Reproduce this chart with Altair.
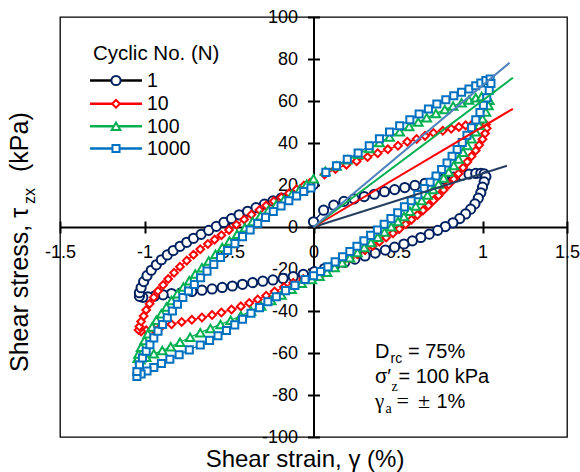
import altair as alt
import pandas as pd

# ---------------- data ----------------
series_names = ["1", "10", "100", "1000"]

strain_n1 = [0.0, 0.06, 0.12, 0.18, 0.24, 0.30, 0.36, 0.42, 0.48, 0.54, 0.60, 0.66, 0.72, 0.77, 0.83, 0.88, 0.92, 0.96, 0.99, 1.01,
             1.02, 1.01, 1.0, 0.99, 0.975, 0.955, 0.93, 0.9, 0.865, 0.825, 0.78, 0.735, 0.685, 0.635, 0.585, 0.535, 0.48, 0.425, 0.365, 0.305, 0.245, 0.185, 0.125, 0.065, 0.005,
             -0.06, -0.12, -0.18, -0.24, -0.30, -0.36, -0.42, -0.48, -0.54, -0.60, -0.66, -0.72, -0.78, -0.84, -0.89, -0.94, -0.98, -1.01, -1.03,
             -1.03, -1.02, -1.005, -0.985, -0.96, -0.93, -0.9, -0.865, -0.83, -0.79, -0.75, -0.71, -0.665, -0.62, -0.575, -0.53, -0.485, -0.44, -0.39, -0.34, -0.29, -0.24, -0.19, -0.14, -0.09, -0.045, 0.0]
stress_n1 = [2.5, 8.0, 10.4, 12.2, 13.4, 14.5, 15.6, 16.8, 17.8, 18.8, 19.8, 20.8, 21.8, 22.8, 23.8, 24.6, 25.2, 25.5, 25.6, 25.3,
             24.0, 21.5, 19.0, 16.3, 13.7, 11.0, 8.5, 6.2, 4.0, 2.0, 0.2, -1.6, -3.4, -5.0, -6.6, -8.1, -9.6, -11.0, -12.4, -13.8, -15.3, -16.8, -18.3, -19.8, -21.3,
             -22.5, -23.6, -24.5, -25.2, -25.8, -26.5, -27.3, -28.1, -28.8, -29.5, -30.1, -30.7, -31.2, -31.7, -32.3, -32.9, -33.3, -33.5, -33.0,
             -31.3, -28.9, -26.0, -23.2, -20.6, -18.0, -15.6, -13.3, -11.2, -9.2, -7.3, -5.4, -3.5, -1.6, 0.3, 2.2, 4.0, 5.8, 7.5, 9.2, 10.9, 12.4, 13.8, 15.3, 16.9, 18.6, 20.2]

strain_n10 = [0.065, 0.13, 0.195, 0.255, 0.32, 0.38, 0.44, 0.5, 0.555, 0.61, 0.66, 0.71, 0.765, 0.815, 0.86, 0.9, 0.94, 0.975, 1.0, 1.02,
              1.025, 1.015, 1.0, 0.98, 0.96, 0.935, 0.91, 0.885, 0.858, 0.83, 0.8, 0.77, 0.74, 0.71, 0.68, 0.648, 0.615, 0.58, 0.545, 0.508, 0.47, 0.43, 0.39, 0.35, 0.305, 0.26, 0.215, 0.165, 0.115, 0.06, 0.0,
              -0.06, -0.12, -0.175, -0.23, -0.28, -0.33, -0.38, -0.43, -0.485, -0.545, -0.6, -0.66, -0.72, -0.78, -0.84, -0.9, -0.95, -0.99, -1.02, -1.035,
              -1.03, -1.02, -1.005, -0.99, -0.97, -0.945, -0.92, -0.89, -0.86, -0.825, -0.79, -0.75, -0.71, -0.67, -0.625, -0.585, -0.545, -0.5, -0.456, -0.41, -0.367, -0.32, -0.28, -0.235, -0.19, -0.145, -0.1, -0.057, -0.02]
stress_n10 = [25.0, 27.6, 29.7, 31.3, 33.3, 35.1, 37.0, 38.7, 40.6, 41.9, 43.4, 44.8, 45.8, 46.8, 47.6, 48.4, 49.0, 49.3, 49.3, 48.8,
              47.0, 44.5, 41.8, 39.0, 36.4, 33.7, 31.0, 28.2, 25.4, 22.8, 20.2, 17.6, 15.0, 12.6, 10.2, 7.9, 5.7, 3.5, 1.3, -0.9, -3.0, -5.0, -7.0, -9.0, -11.0, -13.0, -14.9, -17.0, -19.2, -21.8, -23.6,
              -24.8, -26.6, -28.6, -30.7, -32.7, -34.5, -36.2, -37.8, -39.3, -40.7, -41.9, -43.1, -44.2, -45.2, -46.3, -47.4, -48.4, -49.2, -49.7, -49.0,
              -47.4, -45.0, -42.4, -39.5, -36.6, -33.5, -30.5, -27.6, -24.8, -21.8, -18.9, -16.0, -13.2, -10.6, -8.1, -6.0, -3.9, -1.4, 1.1, 3.6, 5.9, 8.1, 10.2, 12.3, 14.1, 16.0, 17.9, 19.7, 21.0]

strain_n100 = [0.07, 0.136, 0.2, 0.264, 0.33, 0.39, 0.45, 0.51, 0.566, 0.62, 0.67, 0.724, 0.777, 0.826, 0.876, 0.92, 0.96, 0.995, 1.025,
               1.04, 1.035, 1.02, 1.0, 0.98, 0.96, 0.935, 0.91, 0.885, 0.858, 0.83, 0.8, 0.77, 0.74, 0.708, 0.675, 0.64, 0.605, 0.57, 0.535, 0.5, 0.46, 0.42, 0.38, 0.34, 0.3, 0.26, 0.215, 0.17, 0.125, 0.08, 0.035, -0.01,
               -0.07, -0.13, -0.19, -0.25, -0.31, -0.37, -0.43, -0.49, -0.55, -0.61, -0.67, -0.73, -0.79, -0.845, -0.895, -0.945, -0.99, -1.025, -1.04,
               -1.035, -1.02, -1.0, -0.98, -0.955, -0.93, -0.9, -0.87, -0.84, -0.805, -0.77, -0.735, -0.7, -0.66, -0.62, -0.58, -0.54, -0.497, -0.452, -0.406, -0.36, -0.314, -0.266, -0.22, -0.174, -0.128, -0.082, -0.04, 0.0]
stress_n100 = [26.5, 29.1, 32.0, 34.7, 37.4, 40.2, 42.8, 45.4, 47.8, 50.0, 52.0, 54.0, 56.0, 57.6, 59.2, 60.5, 61.5, 62.2, 62.0,
               60.3, 57.8, 54.8, 51.6, 48.5, 45.3, 42.0, 38.8, 35.6, 32.4, 29.3, 26.2, 23.3, 20.5, 17.8, 15.2, 12.6, 10.0, 7.5, 5.0, 2.6, 0.1, -2.4, -4.9, -7.4, -9.8, -12.2, -14.6, -17.0, -19.3, -21.5, -23.5, -25.0,
               -26.8, -29.6, -32.4, -35.0, -37.6, -40.0, -42.3, -44.4, -46.4, -48.3, -50.3, -52.5, -54.9, -57.0, -58.8, -60.4, -62.0, -63.2, -62.5,
               -60.5, -57.3, -54.0, -50.8, -47.6, -44.4, -41.3, -38.1, -35.0, -31.8, -28.6, -25.6, -22.4, -19.4, -16.2, -13.0, -9.8, -6.7, -3.5, -0.4, 2.6, 5.4, 8.1, 10.7, 13.1, 15.5, 17.9, 20.3, 23.0]

strain_n1000 = [0.073, 0.136, 0.2, 0.264, 0.33, 0.39, 0.45, 0.51, 0.57, 0.625, 0.68, 0.73, 0.783, 0.83, 0.876, 0.92, 0.96, 0.99, 1.02, 1.045,
                1.05, 1.04, 1.025, 1.005, 0.985, 0.96, 0.935, 0.908, 0.88, 0.85, 0.82, 0.79, 0.758, 0.725, 0.69, 0.655, 0.617, 0.578, 0.538, 0.498, 0.458, 0.418, 0.378, 0.338, 0.298, 0.257, 0.215, 0.172, 0.128, 0.085, 0.042, 0.0,
                -0.05, -0.11, -0.165, -0.22, -0.27, -0.32, -0.37, -0.42, -0.466, -0.515, -0.565, -0.615, -0.67, -0.735, -0.795, -0.85, -0.9, -0.945, -0.985, -1.02, -1.045,
                -1.045, -1.03, -1.012, -0.99, -0.968, -0.945, -0.92, -0.893, -0.865, -0.835, -0.805, -0.773, -0.74, -0.705, -0.668, -0.63, -0.59, -0.55, -0.508, -0.465, -0.42, -0.375, -0.33, -0.284, -0.238, -0.192, -0.146, -0.1, -0.058, -0.015]
stress_n1000 = [26.0, 29.2, 32.3, 35.2, 38.7, 42.0, 45.2, 48.2, 51.1, 53.8, 56.2, 58.6, 60.6, 62.5, 64.2, 65.7, 67.3, 68.6, 69.8, 70.5,
                68.3, 65.0, 61.5, 58.0, 54.5, 51.0, 47.3, 43.7, 40.2, 36.9, 33.7, 30.5, 27.4, 24.3, 21.3, 18.3, 15.4, 12.5, 9.6, 6.8, 4.0, 1.3, -1.4, -4.0, -6.6, -9.2, -11.7, -14.2, -16.6, -19.0, -21.2, -23.2,
                -25.0, -27.8, -30.3, -33.2, -35.6, -38.4, -41.1, -43.9, -46.6, -49.3, -51.8, -54.0, -56.2, -58.5, -60.8, -63.0, -65.0, -66.9, -68.6, -70.0, -71.2,
                -68.8, -65.6, -62.4, -59.2, -56.0, -52.8, -49.6, -46.4, -43.2, -40.0, -36.8, -33.6, -30.5, -27.4, -24.2, -21.0, -17.8, -14.5, -11.2, -7.9, -4.6, -1.4, 1.7, 4.6, 7.4, 10.0, 12.5, 14.8, 16.9, 18.6]

# straight secant lines from the origin (end points)
secant_end_strain = [1.145, 1.18, 1.18, 1.16]
secant_end_stress = [29.2, 56.3, 71.1, 78.2]

x_ticks = [-1.5, -1.0, -0.5, 0.0, 0.5, 1.0, 1.5]
y_ticks = [-100, -80, -60, -40, -20, 0, 20, 40, 60, 80, 100]

# ---------------- styles ----------------
FONT = "Liberation Sans"
SERIF = "Liberation Serif"
marker_colors = ["#002060", "#FF0000", "#00B050", "#0070C0"]
secant_colors = ["#243F60", "#FF0000", "#00B050", "#4F81BD"]
legend_line_colors = ["#000000", "#FF0000", "#00B050", "#0070C0"]
marker_shapes = ["circle", "diamond", "triangle-up", "square"]
marker_sizes = [85, 60, 75, 50]

W, H = 507, 420
strains = [strain_n1, strain_n10, strain_n100, strain_n1000]
stresses = [stress_n1, stress_n10, stress_n100, stress_n1000]

rows = []
for name, xs, ys in zip(series_names, strains, stresses):
    for i, (xv, yv) in enumerate(zip(xs, ys)):
        rows.append({"N": name, "i": i, "strain": xv, "stress": yv})
df = pd.DataFrame(rows)

x_scale = alt.Scale(domain=[-1.5, 1.5], nice=False, zero=False)
y_scale = alt.Scale(domain=[-100, 100], nice=False, zero=False)

common = dict(grid=False, title=None, tickColor="black", tickWidth=2, tickSize=6)
x_axis_main = alt.Axis(orient="bottom", offset=-H / 2, values=x_ticks, domainColor="black", domainWidth=2,
                       labelFont=FONT, labelFontSize=18, labelColor="black", labelPadding=10,
                       labelOverlap=False, labelFlush=False, labelExpr="'' + datum.value", **common)
y_axis_main = alt.Axis(orient="left", offset=-W / 2, values=y_ticks, domainColor="black", domainWidth=2,
                       labelFont=FONT, labelFontSize=18, labelColor="black", labelPadding=10,
                       labelOverlap=False, labelFlush=False, labelExpr="'' + datum.value", **common)
x_axis_ticks = alt.Axis(orient="top", offset=-H / 2, values=x_ticks, domain=False, labels=False, **common)
y_axis_ticks = alt.Axis(orient="right", offset=-W / 2, values=y_ticks, domain=False, labels=False, **common)

layers = []
# connecting lines
layers.append(
    alt.Chart(df).mark_line(strokeWidth=1.3).encode(
        x=alt.X("strain:Q", scale=x_scale, axis=x_axis_main),
        y=alt.Y("stress:Q", scale=y_scale, axis=y_axis_main),
        color=alt.Color("N:N", scale=alt.Scale(domain=series_names, range=marker_colors), legend=None),
        order=alt.Order("i:Q"),
    )
)
# markers
for k, name in enumerate(series_names):
    sub = df[df["N"] == name]
    layers.append(
        alt.Chart(sub).mark_point(shape=marker_shapes[k], size=marker_sizes[k], filled=False,
                                  fill="white", fillOpacity=1, stroke=marker_colors[k],
                                  strokeWidth=2, opacity=1).encode(
            x=alt.X("strain:Q", scale=x_scale, axis=x_axis_ticks if k == 0 else None),
            y=alt.Y("stress:Q", scale=y_scale, axis=y_axis_ticks if k == 0 else None),
        )
    )
# secant lines
for k, name in enumerate(series_names):
    sec = pd.DataFrame({"strain": [0.0, secant_end_strain[k]], "stress": [0.0, secant_end_stress[k]]})
    layers.append(
        alt.Chart(sec).mark_line(strokeWidth=2, color=secant_colors[k]).encode(
            x=alt.X("strain:Q", scale=x_scale, axis=None),
            y=alt.Y("stress:Q", scale=y_scale, axis=None),
        )
    )

one = pd.DataFrame({"d": [0]})


def txt(text, x, y, size, font=FONT, align="left", baseline="alphabetic", angle=0, color="black"):
    kw = dict(text=text, align=align, baseline=baseline, font=font, fontSize=size, color=color)
    if angle:
        kw["angle"] = angle
    return alt.Chart(one).mark_text(**kw).encode(x=alt.value(x), y=alt.value(y))


# legend (manual, top-left inside plot)
layers.append(txt("Cyclic No. (N)", 33, 43, 20.5))
legend_y = [63.5, 86.8, 109.2, 131.5]
for k, name in enumerate(series_names):
    ry = legend_y[k]
    layers.append(alt.Chart(one).mark_rule(strokeWidth=2.5, color=legend_line_colors[k]).encode(
        x=alt.value(30), x2=alt.value(82), y=alt.value(ry)))
    layers.append(alt.Chart(one).mark_point(shape=marker_shapes[k], size=marker_sizes[k], filled=False,
                                            fill="white", fillOpacity=1, stroke=marker_colors[k],
                                            strokeWidth=2, opacity=1).encode(
        x=alt.value(56), y=alt.value(ry)))
    layers.append(txt(name, 87, ry + 6.5, 19.5))

# annotation (bottom right)
layers += [
    txt("D", 315, 340.8, 20),
    txt("rc", 330.5, 346, 14),
    txt("= 75%", 348, 340.8, 20),
    txt("\u03c3\u2032", 315, 365.8, 20),
    txt("z", 331.5, 374, 14, font=SERIF),
    txt("= 100 kPa", 338.5, 365.8, 20),
    txt("\u03b3", 315, 390.5, 21, font=SERIF),
    txt("a", 325.5, 395.5, 14, font=SERIF),
    txt("=", 336.5, 390.5, 22, font=SERIF),
    txt("\u00b1", 358, 390.5, 22, font=SERIF),
    txt("1%", 376.5, 390.5, 20),
]

# axis titles
layers += [
    txt("Shear strain, \u03b3 (%)", 245, 450, 24, align="center"),
    txt("Shear stress, \u03c4", -32, 355, 25, align="left", angle=270),
    txt("zx", -25, 187, 16, align="left", angle=270),
    txt("(kPa)", -32, 155, 25, align="left", angle=270),
]

chart = alt.layer(*layers).resolve_axis(x="independent", y="independent").properties(
    width=W, height=H,
    autosize=alt.AutoSizeParams(type="none"),
    padding={"left": 60, "top": 17, "right": 13, "bottom": 35},
).configure_view(stroke="black", strokeWidth=1.3)

chart.save("out.html", embed_options={"renderer": "svg", "actions": False})
